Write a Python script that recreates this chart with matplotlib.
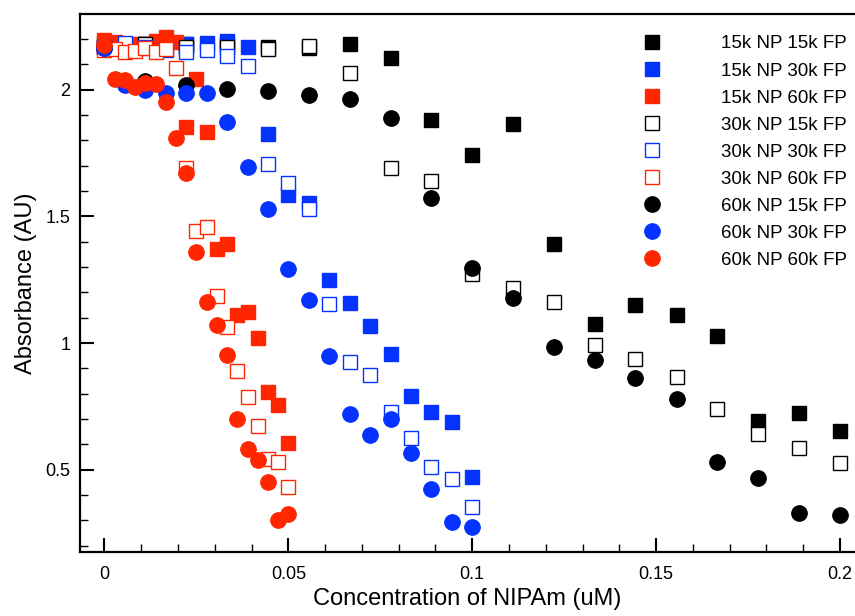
# Absorbance vs NIPAm concentration for NP / FP combinations
import matplotlib
matplotlib.use('Agg')
import matplotlib.pyplot as plt
import matplotlib.ticker as ticker

plt.rcParams['font.family'] = ['Liberation Sans', 'DejaVu Sans']

# concentration steps (uM) for each FP size
conc_15k_fp = [0, 0.0111, 0.0222, 0.0333, 0.0444, 0.0556, 0.0667, 0.0778, 0.0889, 0.1,
               0.1111, 0.1222, 0.1333, 0.1444, 0.1556, 0.1667, 0.1778, 0.1889, 0.2]
conc_30k_fp = [0, 0.0056, 0.0111, 0.0167, 0.0222, 0.0278, 0.0333, 0.0389, 0.0444, 0.05,
               0.0556, 0.0611, 0.0667, 0.0722, 0.0778, 0.0833, 0.0889, 0.0944, 0.1]
conc_60k_fp = [0, 0.0028, 0.0056, 0.0083, 0.0111, 0.0139, 0.0167, 0.0194, 0.0222, 0.025,
               0.0278, 0.0306, 0.0333, 0.0361, 0.0389, 0.0417, 0.0444, 0.0472, 0.05]

# absorbance (AU)
np15_fp15 = [2.18, 2.18, 2.18, 2.18, 2.17, 2.165, 2.18, 2.126, 1.88, 1.742,
             1.866, 1.391, 1.076, 1.151, 1.111, 1.028, 0.692, 0.724, 0.654]
np15_fp30 = [2.17, 2.18, 2.18, 2.18, 2.18, 2.183, 2.193, 2.167, 1.824, 1.584,
             1.554, 1.249, 1.157, 1.067, 0.958, 0.791, 0.726, 0.689, 0.471]
np15_fp60 = [2.196, 2.19, 2.18, 2.18, 2.18, 2.193, 2.209, 2.19, 1.854, 2.042,
             1.834, 1.371, 1.39, 1.11, 1.124, 1.02, 0.805, 0.755, 0.606]
np30_fp15 = [2.17, 2.18, 2.17, 2.17, 2.16, 2.172, 2.065, 1.691, 1.641, 1.272,
             1.218, 1.162, 0.992, 0.937, 0.866, 0.741, 0.641, 0.585, 0.526]
np30_fp30 = [2.17, 2.183, 2.17, 2.157, 2.15, 2.157, 2.133, 2.094, 1.707, 1.633,
             1.528, 1.154, 0.926, 0.872, 0.729, 0.624, 0.512, 0.462, 0.353]
np30_fp60 = [2.157, 2.16, 2.15, 2.154, 2.163, 2.15, 2.16, 2.087, 1.69, 1.442,
             1.459, 1.187, 1.064, 0.891, 0.788, 0.672, 0.542, 0.531, 0.43]
np60_fp15 = [2.165, 2.034, 2.019, 2.003, 1.995, 1.979, 1.962, 1.889, 1.574, 1.297,
             1.179, 0.984, 0.933, 0.863, 0.779, 0.53, 0.468, 0.329, 0.321]
np60_fp30 = [2.165, 2.018, 1.999, 1.988, 1.986, 1.986, 1.871, 1.694, 1.529, 1.291,
             1.17, 0.95, 0.72, 0.637, 0.699, 0.565, 0.425, 0.292, 0.272]
np60_fp60 = [2.176, 2.042, 2.038, 2.012, 2.025, 2.022, 1.95, 1.808, 1.67, 1.36,
             1.163, 1.071, 0.953, 0.7, 0.582, 0.538, 0.45, 0.301, 0.324]

black = 'black'
blue = '#0433FF'
red = '#FF2600'

fig = plt.figure(figsize=(8.55, 6.16), dpi=100)
ax = fig.add_axes([80 / 855, 1 - 552 / 616, 1 - 80 / 855, (552 - 14) / 616])

sq = dict(marker='s', ms=9.6, mew=1.0, linestyle='none')
ci = dict(marker='o', ms=11.2, mew=0.8, linestyle='none')

ax.plot(conc_15k_fp, np15_fp15, color=black, mfc=black, label='15k NP 15k FP', **sq)
ax.plot(conc_30k_fp, np15_fp30, color=blue, mfc=blue, label='15k NP 30k FP', **sq)
ax.plot(conc_60k_fp, np15_fp60, color=red, mfc=red, label='15k NP 60k FP', **sq)
ax.plot(conc_15k_fp, np30_fp15, color=black, mfc='white', label='30k NP 15k FP', **sq)
ax.plot(conc_30k_fp, np30_fp30, color=blue, mfc='white', label='30k NP 30k FP', **sq)
ax.plot(conc_60k_fp, np30_fp60, color=red, mfc='white', label='30k NP 60k FP', **sq)
ax.plot(conc_15k_fp, np60_fp15, color=black, mfc=black, label='60k NP 15k FP', **ci)
ax.plot(conc_30k_fp, np60_fp30, color=blue, mfc=blue, label='60k NP 30k FP', **ci)
ax.plot(conc_60k_fp, np60_fp60, color=red, mfc=red, label='60k NP 60k FP', **ci)

ax.set_xlim(-0.00666, 0.2041)
ax.set_ylim(0.175, 2.299)

ax.xaxis.set_major_locator(ticker.MultipleLocator(0.05))
ax.xaxis.set_minor_locator(ticker.MultipleLocator(0.01))
ax.yaxis.set_major_locator(ticker.MultipleLocator(0.5))
ax.yaxis.set_minor_locator(ticker.MultipleLocator(0.1))
fmt = ticker.FuncFormatter(lambda v, p: '%g' % round(v, 3))
ax.xaxis.set_major_formatter(fmt)
ax.yaxis.set_major_formatter(fmt)

ax.tick_params(which='both', direction='in', top=False, right=False, labelsize=13)
ax.tick_params(which='major', length=10, width=1.5, pad=7)
ax.tick_params(axis='x', which='major', pad=10)
ax.tick_params(which='minor', length=5.5, width=1.0)
for s in ['left', 'bottom', 'top']:
    ax.spines[s].set_linewidth(1.6)
ax.spines['right'].set_visible(False)

ax.set_xlabel('Concentration of NIPAm (uM)', fontsize=17, labelpad=4)
ax.set_ylabel('Absorbance (AU)', fontsize=17, labelpad=6)

ax.legend(loc='upper left', bbox_to_anchor=(616.5 / 855, 1 - 18.5 / 616),
          bbox_transform=fig.transFigure, frameon=False, fontsize=13.5,
          handlelength=2.0, handletextpad=2.68, labelspacing=0.53, numpoints=1)

fig.savefig('out.png', dpi=100)
